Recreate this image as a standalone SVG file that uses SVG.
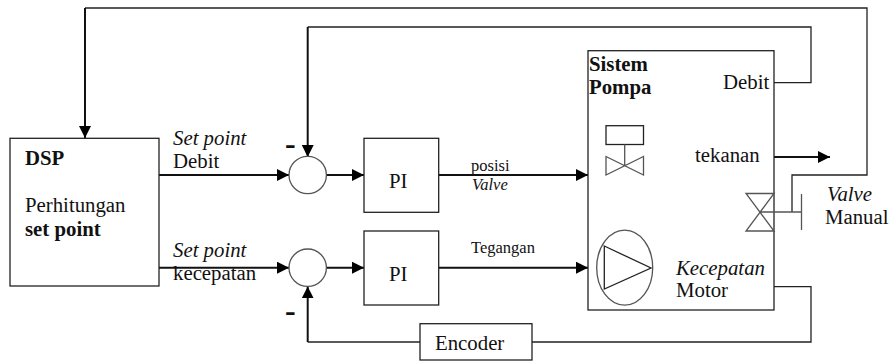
<svg xmlns="http://www.w3.org/2000/svg" width="891" height="361" viewBox="0 0 891 361">
<style>
text{font-family:"Liberation Serif","Times New Roman",serif;font-size:20.800px;fill:#111}
.i{font-style:italic}.b{font-weight:bold}.s{font-size:16.500px}
.box{fill:#fff;stroke:#222;stroke-width:1.3}
.g{fill:none;stroke:#555;stroke-width:1.3}
.w{fill:none;stroke:#222;stroke-width:1.3}
.t{fill:none;stroke:#111;stroke-width:2}
</style>
<defs><marker id="a" markerUnits="userSpaceOnUse" markerWidth="13" markerHeight="12" refX="12" refY="6" orient="auto"><path d="M0 0L12 6L0 12Z" fill="#000"/></marker></defs>
<rect width="891" height="361" fill="#fff"/>
<g id="connectors">
<path class="w" d="M774 82.700H811V27H307.700"/>
<path class="t" d="M307.700 27V157" marker-end="url(#a)"/>
<path class="w" d="M792 212V175H867V8H85"/>
<path class="t" d="M85 8V138" marker-end="url(#a)"/>
<path class="t" d="M159 175H289" marker-end="url(#a)"/>
<path class="t" d="M159 267.700H289" marker-end="url(#a)"/>
<path class="t" d="M326.400 175H364" marker-end="url(#a)"/>
<path class="t" d="M326.400 267.700H364" marker-end="url(#a)"/>
<path class="t" d="M438.700 175H588" marker-end="url(#a)"/>
<path class="t" d="M438.700 267.700H588" marker-end="url(#a)"/>
<path class="t" d="M774 157H830" marker-end="url(#a)"/>
<path class="w" d="M774 286.700H811V342H532"/>
<path class="w" d="M420 342H307.700"/>
<path class="t" d="M307.700 342V286.400" marker-end="url(#a)"/>
</g>
<g id="dsp"><rect class="box" x="10" y="138.300" width="149" height="147.700"/>
<text class="b" x="25" y="165">DSP</text><text x="25" y="212">Perhitungan</text><text class="b" x="25" y="236">set point</text></g>
<g id="label-setpoint-debit"><text class="i" x="173" y="145">Set point</text><text x="173" y="168">Debit</text></g>
<g id="label-setpoint-kecepatan"><text class="i" x="173" y="257">Set point</text><text x="173" y="280">kecepatan</text></g>
<g id="sum1"><circle class="g" cx="307.700" cy="175" r="18.700" fill="#fff"/><text class="b" x="285" y="154" style="font-size:32px">-</text></g>
<g id="sum2"><circle class="g" cx="307.700" cy="267.700" r="18.700" fill="#fff"/><text class="b" x="285" y="321" style="font-size:32px">-</text></g>
<g id="pi1"><rect class="box" x="364" y="138.300" width="74.700" height="74"/><text x="389" y="188">PI</text></g>
<g id="pi2"><rect class="box" x="364" y="231" width="74.700" height="74"/><text x="389" y="281">PI</text></g>
<g id="label-posisi"><text class="s" x="471" y="171">posisi</text><text class="s i" x="472" y="190">Valve</text></g>
<g id="label-tegangan"><text class="s" x="471" y="253">Tegangan</text></g>
<g id="encoder"><rect class="box" x="420" y="323.700" width="112" height="36.300"/><text x="435" y="350">Encoder</text></g>
<g id="sistem-pompa"><rect class="box" x="588" y="50.700" width="186" height="259.300" style="fill:none"/>
<text class="b" x="589" y="71">Sistem</text><text class="b" x="589" y="94">Pompa</text>
<text x="723" y="89">Debit</text><text x="695" y="162">tekanan</text>
<text class="i" x="676" y="275">Kecepatan</text><text x="676" y="297">Motor</text></g>
<g id="control-valve"><rect class="w" x="606" y="125.700" width="37.500" height="18.800"/><path class="g" d="M624.700 144.500V166M606 156.500L643.500 175V156.500L606 175Z"/></g>
<g id="pump"><ellipse class="g" cx="624.700" cy="267.700" rx="28" ry="37.500"/><path class="w" d="M604.300 246L651 268L604.300 289Z"/></g>
<g id="manual-valve"><path class="g" d="M746 193.500H774L746 231H774ZM760 212H801.500M801.500 194V230"/></g>
<g id="label-valve-manual"><text class="i" x="827" y="201">Valve</text><text x="825" y="224">Manual</text></g>
</svg>
